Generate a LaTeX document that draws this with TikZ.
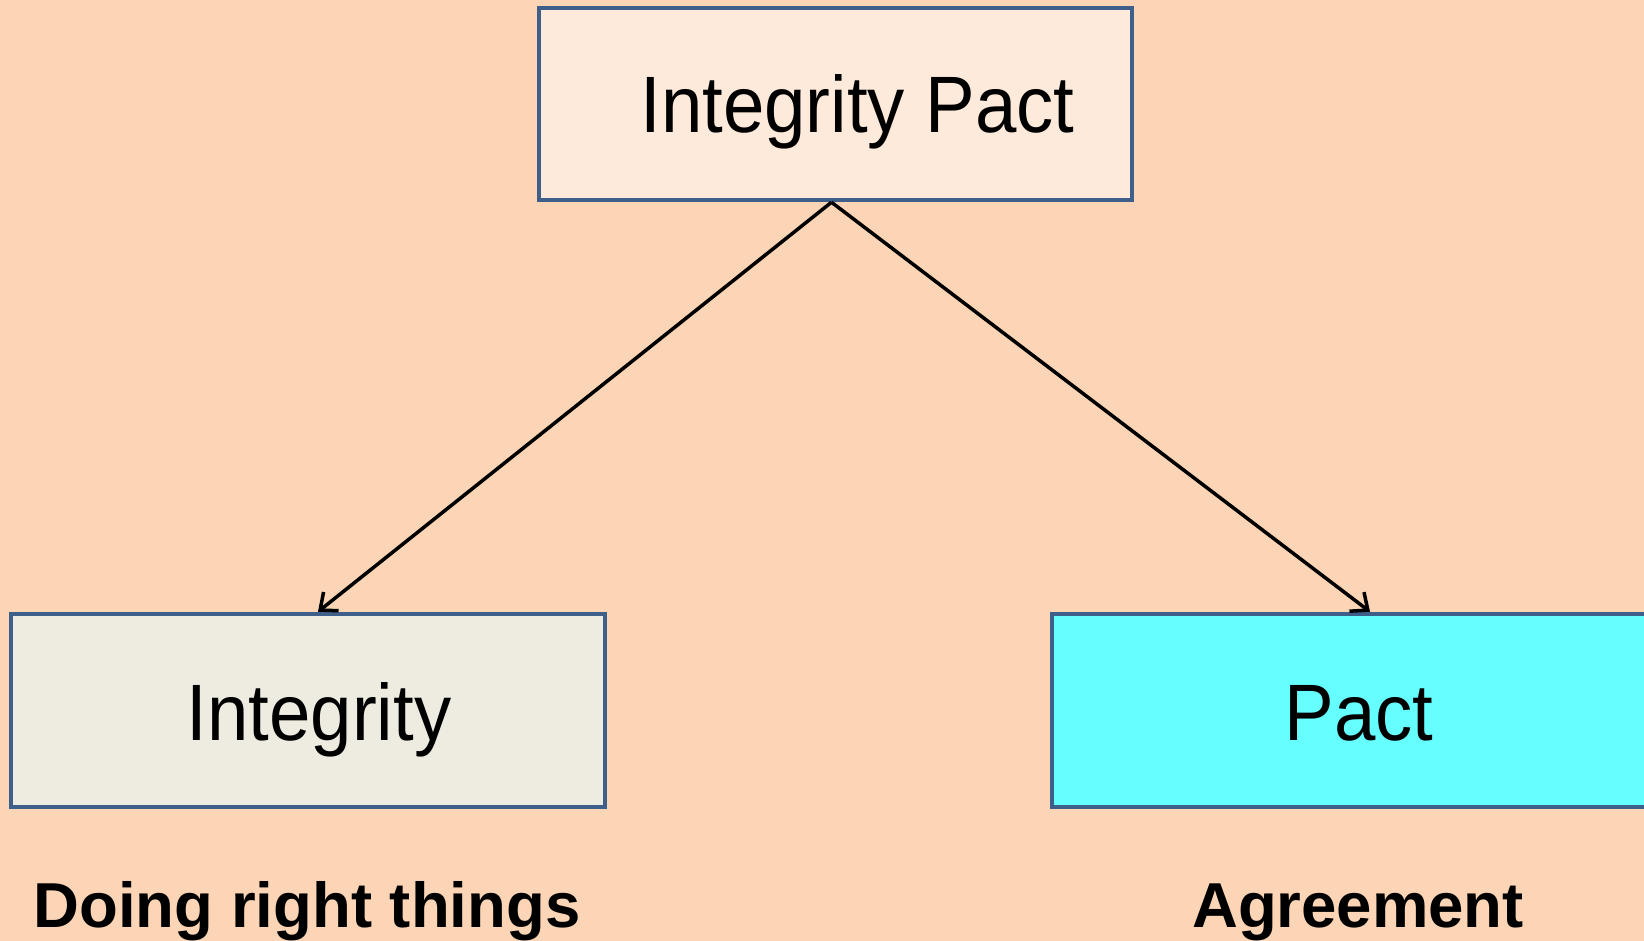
\documentclass[tikz,border=0pt]{standalone}
\usepackage{fontspec}
\usepackage{graphicx}
\setmainfont{Liberation Sans}
\usetikzlibrary{arrows.meta}
\definecolor{bgpeach}{HTML}{FBD5B5}
\definecolor{toppeach}{HTML}{FDEADA}
\definecolor{leftgray}{HTML}{EEECE1}
\definecolor{rightcyan}{HTML}{66FFFF}
\definecolor{borderblue}{HTML}{3E5F8A}
\newcommand{\narrowtxt}[1]{\scalebox{0.93}[1]{#1}}
\tikzset{
  boxstyle/.style={draw=borderblue, line width=4.5pt, rectangle, inner sep=0pt},
  boxtext/.style={font=\fontsize{80}{96}\selectfont, anchor=base, inner sep=0pt},
  captext/.style={font=\bfseries\fontsize{63.5}{76}\selectfont, anchor=base, inner sep=0pt},
  connector/.style={line width=3.5pt, -{Straight Barb[length=14pt,width=24pt,line width=3.5pt]}}
}
\begin{document}
\begin{tikzpicture}[x=1pt,y=-1pt]
\fill[bgpeach] (0,0) rectangle (1644,941);
\useasboundingbox (0,0) rectangle (1644,941);
\node[boxstyle, fill=toppeach, minimum width=593pt, minimum height=192pt] (top) at (835.5,104) {};
\node[boxstyle, fill=leftgray, minimum width=594pt, minimum height=193pt] (left) at (308,710.5) {};
\node[boxstyle, fill=rightcyan, minimum width=596pt, minimum height=193pt] (right) at (1350,710.5) {};
\node[boxtext] (toptext) at (857.5,133) {\narrowtxt{Integrity Pact}};
\node[boxtext] (lefttext) at (319,740) {\narrowtxt{Integrity}};
\node[boxtext] (righttext) at (1359,740) {\narrowtxt{Pact}};
\node[captext] (leftcap) at (307,927) {Doing right things};
\node[captext] (rightcap) at (1358,927) {Agreement};
\draw[connector] ([xshift=-4pt]top.south) -- ([xshift=10pt]left.north);
\draw[connector] ([xshift=-4pt]top.south) -- ([xshift=20pt]right.north);
\end{tikzpicture}
\end{document}
